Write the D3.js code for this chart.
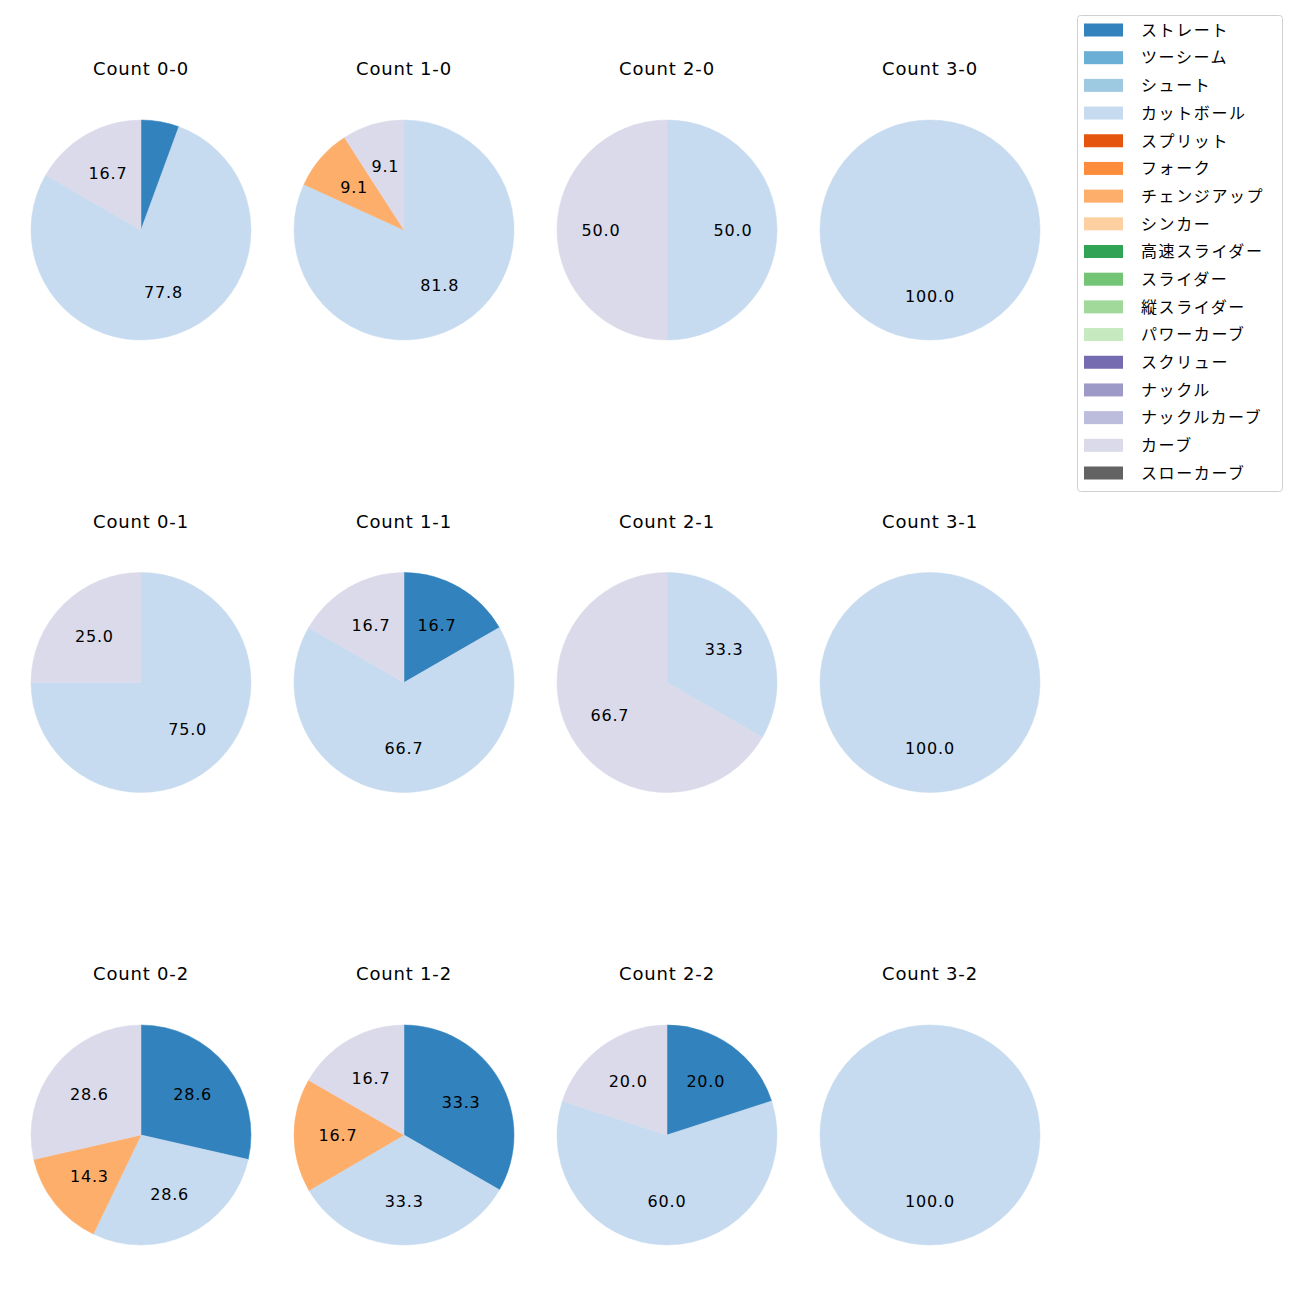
<!DOCTYPE html>
<html><head><meta charset="utf-8">
<script src="https://cdn.jsdelivr.net/npm/d3@7"></script>
<style>body{margin:0;background:#fff;} text{font-family:"DejaVu Sans","Noto Sans CJK JP",sans-serif;}</style>
</head><body>
<svg id="c" width="1300" height="1300"></svg>
<script>
const pitchTypes = ["ストレート","ツーシーム","シュート","カットボール","スプリット","フォーク","チェンジアップ","シンカー","高速スライダー","スライダー","縦スライダー","パワーカーブ","スクリュー","ナックル","ナックルカーブ","カーブ","スローカーブ"];
const pitchColors = ["#3182bd","#6baed6","#9ecae1","#c6dbef","#e6550d","#fd8d3c","#fdae6b","#fdd0a2","#31a354","#74c476","#a1d99b","#c7e9c0","#756bb1","#9e9ac8","#bcbddc","#dadaeb","#636363"];
const countTitles = ["Count 0-0","Count 1-0","Count 2-0","Count 3-0","Count 0-1","Count 1-1","Count 2-1","Count 3-1","Count 0-2","Count 1-2","Count 2-2","Count 3-2"];
// values as [pitchType, percent]
const count00 = [["ストレート",5.6],["カットボール",77.8],["カーブ",16.7]];
const count10 = [["カットボール",81.8],["チェンジアップ",9.1],["カーブ",9.1]];
const count20 = [["カットボール",50.0],["カーブ",50.0]];
const count30 = [["カットボール",100.0]];
const count01 = [["カットボール",75.0],["カーブ",25.0]];
const count11 = [["ストレート",16.7],["カットボール",66.7],["カーブ",16.7]];
const count21 = [["カットボール",33.3],["カーブ",66.7]];
const count31 = [["カットボール",100.0]];
const count02 = [["ストレート",28.6],["カットボール",28.6],["チェンジアップ",14.3],["カーブ",28.6]];
const count12 = [["ストレート",33.3],["カットボール",33.3],["チェンジアップ",16.7],["カーブ",16.7]];
const count22 = [["ストレート",20.0],["カットボール",60.0],["カーブ",20.0]];
const count32 = [["カットボール",100.0]];
const allCounts = [count00,count10,count20,count30,count01,count11,count21,count31,count02,count12,count22,count32];

const svg = d3.select("#c");
const color = d3.scaleOrdinal().domain(pitchTypes).range(pitchColors);
const colX = d3.scalePoint().domain([0,1,2,3]).range([141,930]);
const rowY = d3.scalePoint().domain([0,1,2]).range([230,1135]);
const R = 110;
const pie = d3.pie().sort(null).value(d=>d[1]).startAngle(0).endAngle(2*Math.PI);
const arc = d3.arc().innerRadius(0).outerRadius(R);
const labelArc = d3.arc().innerRadius(R*0.6).outerRadius(R*0.6);

allCounts.forEach((data,i)=>{
  const cx = colX(i%4), cy = rowY(Math.floor(i/4));
  const g = svg.append("g").attr("transform",`translate(${cx},${cy})`);
  const arcs = pie(data);
  g.selectAll("path").data(arcs).join("path")
    .attr("d",arc).attr("fill",d=>color(d.data[0]))
    .attr("stroke",d=>color(d.data[0])).attr("stroke-width",0.5);
  g.selectAll("text.lbl").data(arcs.filter(d=>d.data[1]>=6)).join("text")
    .attr("class","lbl")
    .attr("transform",d=>`translate(${labelArc.centroid(d)})`)
    .attr("text-anchor","middle").attr("dy","0.36em")
    .attr("font-size","16px").attr("letter-spacing","0.8px").attr("fill","#000")
    .text(d=>d.data[1].toFixed(1));
  g.append("text").attr("x",0).attr("y",-R-51).attr("dy","0.36em")
    .attr("text-anchor","middle")
    .attr("font-size","18px").attr("letter-spacing","0.8px").attr("fill","#000")
    .text(countTitles[i]);
});

// legend
const lg = svg.append("g");
lg.append("rect").attr("x",1077.5).attr("y",15.5).attr("width",205).attr("height",476)
  .attr("rx",3).attr("fill","#fff").attr("stroke","#d0d0d0");
const ly = d3.scalePoint().domain(pitchTypes).range([30,473]);
pitchTypes.forEach(p=>{
  lg.append("rect").attr("x",1084).attr("y",ly(p)-6.5).attr("width",39).attr("height",13).attr("fill",color(p));
  lg.append("text").attr("x",1141).attr("y",ly(p)).attr("dy","0.36em")
    .attr("font-family","'Noto Sans CJK JP',sans-serif")
    .attr("font-size","16px").attr("letter-spacing","1.6px").attr("fill","#000").text(p);
});
</script>
</body></html>
